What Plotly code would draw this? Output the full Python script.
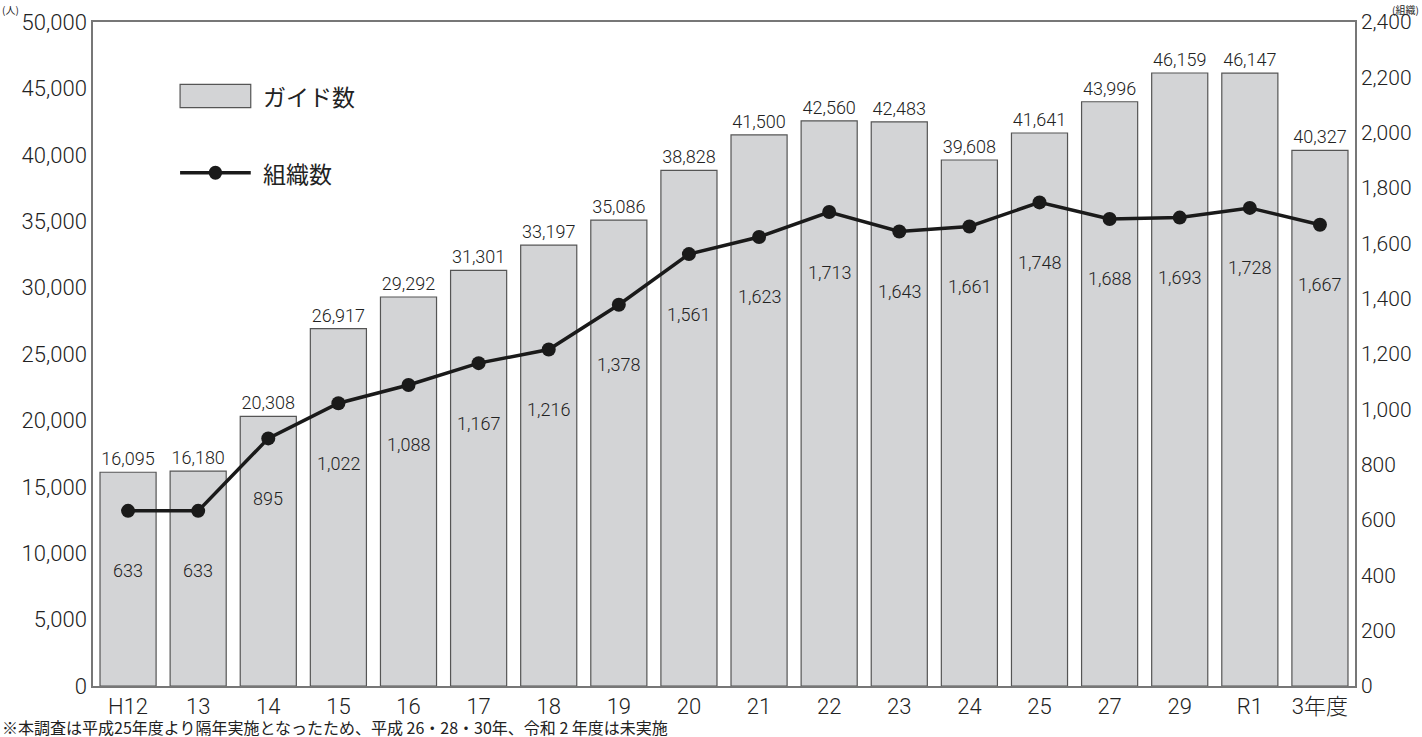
import plotly.graph_objects as go

categories = ["H12", "13", "14", "15", "16", "17", "18", "19", "20", "21",
              "22", "23", "24", "25", "27", "29", "R1", "3年度"]
guides = [16095, 16180, 20308, 26917, 29292, 31301, 33197, 35086, 38828, 41500,
          42560, 42483, 39608, 41641, 43996, 46159, 46147, 40327]
orgs = [633, 633, 895, 1022, 1088, 1167, 1216, 1378, 1561, 1623,
        1713, 1643, 1661, 1748, 1688, 1693, 1728, 1667]

FONT = "Roboto, 'Noto Sans CJK JP', sans-serif"
JP = "'Noto Sans CJK JP', sans-serif"
TXT = "#222222"

fig = go.Figure()
fig.add_trace(go.Bar(
    x=categories, y=guides, name="ガイド数",
    marker=dict(color="#d3d4d6", line=dict(color="#555555", width=1.2)),
    text=[f"{v:,}" for v in guides], textposition="outside", constraintext="none",
    textfont=dict(size=18, color=TXT, family=FONT, weight=300),
    cliponaxis=False, showlegend=False,
))
fig.add_trace(go.Scatter(
    x=categories, y=orgs, name="組織数", yaxis="y2", mode="lines+markers",
    line=dict(color="#1a1a1a", width=3.5),
    marker=dict(size=14, color="#1a1a1a"), showlegend=False,
))

annotations = []
for i, v in enumerate(orgs):
    annotations.append(dict(x=i, y=v, xref="x", yref="y2", text=f"{v:,}",
                            showarrow=False, yshift=-60,
                            font=dict(size=18, color=TXT, family=FONT, weight=300)))

# axis unit labels
annotations.append(dict(x=0, y=1.0, xref="paper", yref="paper", text="(人)",
                        showarrow=False, xanchor="left", yanchor="top", yshift=22, xshift=-93,
                        font=dict(size=10, color=TXT, family=JP)))
annotations.append(dict(x=1, y=1.0, xref="paper", yref="paper", text="(組織)",
                        showarrow=False, xanchor="right", yanchor="top", yshift=22, xshift=66,
                        font=dict(size=10, color=TXT, family=JP)))
# legend texts
annotations.append(dict(x=0.133, y=0.888, xref="paper", yref="paper", text="ガイド数",
                        showarrow=False, xanchor="left", yanchor="middle",
                        font=dict(size=23, color=TXT, family=JP)))
annotations.append(dict(x=0.133, y=0.773, xref="paper", yref="paper", text="組織数",
                        showarrow=False, xanchor="left", yanchor="middle",
                        font=dict(size=23, color=TXT, family=JP)))
# footnote
annotations.append(dict(x=0, y=0, xref="paper", yref="paper", xanchor="left", yanchor="top",
                        xshift=-93, yshift=-27,
                        text="※本調査は平成25年度より隔年実施となったため、平成 26・28・30年、令和 2 年度は未実施",
                        showarrow=False, font=dict(size=16, color=TXT, family=JP)))

shapes = [
    dict(type="rect", xref="paper", yref="paper", x0=0.069, x1=0.125, y0=0.871, y1=0.906,
         fillcolor="#d3d4d6", line=dict(color="#555555", width=1.2)),
    dict(type="line", xref="paper", yref="paper", x0=0.069, x1=0.125, y0=0.773, y1=0.773,
         line=dict(color="#1a1a1a", width=3.5)),
    dict(type="circle", xref="paper", yref="paper", x0=0.0917, x1=0.1023, y0=0.7625, y1=0.7835,
         fillcolor="#1a1a1a", line=dict(color="#1a1a1a", width=0)),
]

tickfont = dict(size=22, family=FONT, color=TXT, weight=300)

fig.update_layout(
    width=1422, height=737,
    margin=dict(l=93, r=67, t=22, b=51, autoexpand=False),
    paper_bgcolor="white", plot_bgcolor="white",
    bargap=0.2,
    font=dict(family=FONT, color=TXT),
    xaxis=dict(type="category", categoryorder="array", categoryarray=categories,
               range=[-0.5, len(categories) - 0.5], automargin=False,
               showline=True, linecolor="#777777", linewidth=1.5, mirror=True,
               ticks="", tickangle=0, tickfont=tickfont, showgrid=False),
    yaxis=dict(range=[0, 50000], dtick=5000, tickformat=",", showgrid=False, automargin=False,
               showline=True, linecolor="#777777", linewidth=1.5, ticks="",
               tickfont=tickfont, zeroline=False),
    yaxis2=dict(range=[0, 2400], dtick=200, tickformat=",", overlaying="y", side="right",
                automargin=False,
                showgrid=False, showline=True, linecolor="#777777", linewidth=1.5,
                ticks="", tickfont=dict(size=21, family=FONT, color=TXT, weight=300),
                zeroline=False),
    annotations=annotations, shapes=shapes, showlegend=False,
)

fig.write_html("out.html", config={"displayModeBar": False},
               post_script="document.body.style.margin='0';document.body.style.overflow='hidden';")
